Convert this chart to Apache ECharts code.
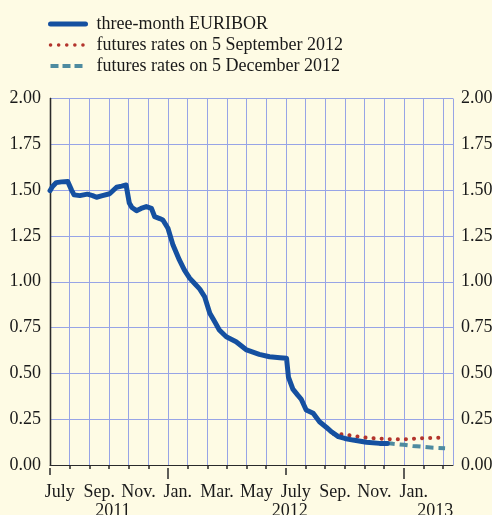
<!DOCTYPE html>
<html>
<head>
<meta charset="utf-8">
<script src="https://cdn.jsdelivr.net/npm/echarts@6/dist/echarts.min.js"></script>
<style>
html,body{margin:0;padding:0;background:#FEFBE4;}
#c{width:492px;height:515px;}
</style>
</head>
<body>
<div id="c"></div>
<script>
// ---- data ----
const seriesNames = ['three-month EURIBOR', 'futures rates on 5 September 2012', 'futures rates on 5 December 2012'];

const euriborDates = ['2011-07-01','2011-07-05','2011-07-11','2011-07-19','2011-07-29','2011-08-01','2011-08-04','2011-08-08','2011-08-17','2011-08-29',
  '2011-09-06','2011-09-12','2011-09-21','2011-10-02','2011-10-13','2011-10-21','2011-10-28','2011-10-31','2011-11-02','2011-11-06',
  '2011-11-13','2011-11-20','2011-11-28','2011-12-06','2011-12-11','2011-12-19','2011-12-24','2012-01-01','2012-01-09','2012-01-19',
  '2012-01-27','2012-02-04','2012-02-11','2012-02-19','2012-02-26','2012-03-05','2012-03-13','2012-03-20','2012-03-31','2012-04-15',
  '2012-05-01','2012-05-21','2012-06-06','2012-06-22','2012-07-02','2012-07-04','2012-07-05','2012-07-12','2012-07-20','2012-07-25',
  '2012-08-02','2012-08-13','2012-08-23','2012-09-03','2012-09-11','2012-09-21','2012-10-01','2012-10-14','2012-11-04','2012-11-24','2012-12-06'];
const euriborValues = [1.497,1.52,1.541,1.545,1.547,1.54,1.50,1.474,1.47,1.478,
  1.47,1.461,1.47,1.48,1.516,1.522,1.528,1.52,1.43,1.405,
  1.388,1.40,1.41,1.401,1.355,1.345,1.337,1.292,1.20,1.119,
  1.064,1.02,0.992,0.96,0.919,0.828,0.78,0.737,0.70,0.673,
  0.628,0.604,0.591,0.585,0.582,0.575,0.48,0.414,0.38,0.36,
  0.30,0.282,0.236,0.205,0.18,0.155,0.145,0.136,0.124,0.118,0.118];

const futuresSepDates = ['2012-09-04','2012-09-14','2012-10-01','2012-10-15','2012-11-01','2012-11-15','2012-12-01','2012-12-15','2013-01-01','2013-01-15','2013-02-01','2013-02-15','2013-03-04'];
const futuresSepValues = [0.20,0.17,0.166,0.158,0.15,0.146,0.143,0.14,0.14,0.143,0.147,0.148,0.149];

const futuresDecDates = ['2012-12-05','2012-12-15','2013-01-01','2013-01-15','2013-02-01','2013-02-15','2013-03-04'];
const futuresDecValues = [0.12,0.116,0.11,0.104,0.099,0.094,0.091];

const monthLabels = ['July','Sep.','Nov.','Jan.','Mar.','May','July','Sep.','Nov.','Jan.'];
const yearLabels = ['2011','2012','2013'];

// ---- helpers: date -> months since 1 July 2011 ----
function toMonth(d) {
  const p = d.split('-').map(Number);
  const dim = new Date(p[0], p[1], 0).getDate();
  return (p[0] - 2011) * 12 + (p[1] - 7) + (p[2] - 1) / dim;
}
function pairs(dates, vals) { return dates.map((d, i) => [toMonth(d), vals[i]]); }

const labelAt = monthLabels.map((_, i) => 0.5 + 2 * i);
const yearAt = [3.2, 12.2, 19.6];
const allMonths = []; for (let i = 0; i <= 20; i++) allMonths.push(i);
const shortTicks = allMonths.filter(m => m % 6 !== 0);
const julyTicks = allMonths.filter(m => m % 12 === 0);
const janTicks = allMonths.filter(m => m % 12 === 6);

const FONT = '"Liberation Serif", "DejaVu Serif", serif';
const TXT = '#1a1a1a';
const GRID = '#97A4E6';
const AX = '#2a2a2a';
const BLUE = '#1550A0', RED = '#B3342C', TEAL = '#4E8BA0';

const chart = echarts.init(document.getElementById('c'), null, {renderer: 'canvas'});

const baseX = {
  type: 'value', position: 'bottom', min: 0, max: 20.5, interval: 1, gridIndex: 0, offset: 3,
  axisLine: {show: false}, axisTick: {show: false}, axisLabel: {show: false}, splitLine: {show: false}
};

chart.setOption({
  backgroundColor: '#FEFBE4',
  animation: false,
  textStyle: {fontFamily: FONT},
  legend: {
    orient: 'vertical', left: 43, top: 10,
    itemWidth: 35, itemHeight: 14, itemGap: 3,
    itemStyle: {opacity: 0},
    textStyle: {fontFamily: FONT, fontSize: 18, color: TXT, padding: [0, 0, 0, 6]},
    data: [
      {name: seriesNames[0], lineStyle: {width: 5, color: BLUE}},
      {name: seriesNames[1], lineStyle: {width: 3.5, color: RED, type: [0.1, 8], cap: 'round'}},
      {name: seriesNames[2], lineStyle: {width: 4, color: TEAL, type: [8, 4]}}
    ]
  },
  grid: {left: 50, right: 39, top: 98.5, bottom: 50, containLabel: false, outerBoundsMode: 'none'},
  xAxis: [
    Object.assign({}, baseX, {
      offset: 0,
      splitLine: {show: true, lineStyle: {color: GRID, width: 1}}
    }),
    Object.assign({}, baseX, {
      axisLine: {show: true, lineStyle: {color: AX, width: 1}},
      axisTick: {show: true, customValues: shortTicks, length: 4, lineStyle: {color: AX, width: 1.5}},
      axisLabel: {show: true, customValues: labelAt, margin: 15,
        fontFamily: FONT, fontSize: 18, color: TXT,
        formatter: v => monthLabels[Math.round((v - 0.5) / 2)] || ''}
    }),
    Object.assign({}, baseX, {
      axisTick: {show: true, customValues: julyTicks, length: 7, lineStyle: {color: AX, width: 1.5}}
    }),
    Object.assign({}, baseX, {
      axisTick: {show: true, customValues: janTicks, length: 11, lineStyle: {color: AX, width: 1.5}},
      axisLabel: {show: true, customValues: yearAt, margin: 34,
        fontFamily: FONT, fontSize: 18, color: TXT,
        formatter: v => yearLabels[yearAt.indexOf(v)] || ''}
    })
  ],
  yAxis: [
    {
      type: 'value', min: 0, max: 2, interval: 0.25, position: 'left',
      axisLine: {show: true, lineStyle: {color: AX, width: 1.3}},
      axisTick: {show: false},
      axisLabel: {margin: 9, fontFamily: FONT, fontSize: 18, color: TXT, formatter: v => v.toFixed(2)},
      splitLine: {show: true, lineStyle: {color: GRID, width: 1}}
    },
    {
      type: 'value', min: 0, max: 2, interval: 0.25, position: 'right',
      axisLine: {show: true, lineStyle: {color: AX, width: 1.3}},
      axisTick: {show: false},
      axisLabel: {margin: 8, fontFamily: FONT, fontSize: 18, color: TXT, formatter: v => v.toFixed(2)},
      splitLine: {show: false}
    }
  ],
  series: [
    {
      name: seriesNames[1], type: 'line', xAxisIndex: 0, yAxisIndex: 0,
      data: pairs(futuresSepDates, futuresSepValues),
      showSymbol: false, symbol: 'none', z: 3,
      lineStyle: {color: RED, width: 4, type: [0.1, 8], cap: 'round'},
      itemStyle: {color: RED}
    },
    {
      name: seriesNames[2], type: 'line', xAxisIndex: 0, yAxisIndex: 0,
      data: pairs(futuresDecDates, futuresDecValues),
      showSymbol: false, symbol: 'none', z: 3,
      lineStyle: {color: TEAL, width: 4, type: [8, 5]},
      itemStyle: {color: TEAL}
    },
    {
      name: seriesNames[0], type: 'line', xAxisIndex: 0, yAxisIndex: 0,
      data: pairs(euriborDates, euriborValues),
      showSymbol: false, symbol: 'none', z: 4,
      lineStyle: {color: BLUE, width: 5, join: 'round', cap: 'round'},
      itemStyle: {color: BLUE}
    }
  ]
});
</script>
</body>
</html>
